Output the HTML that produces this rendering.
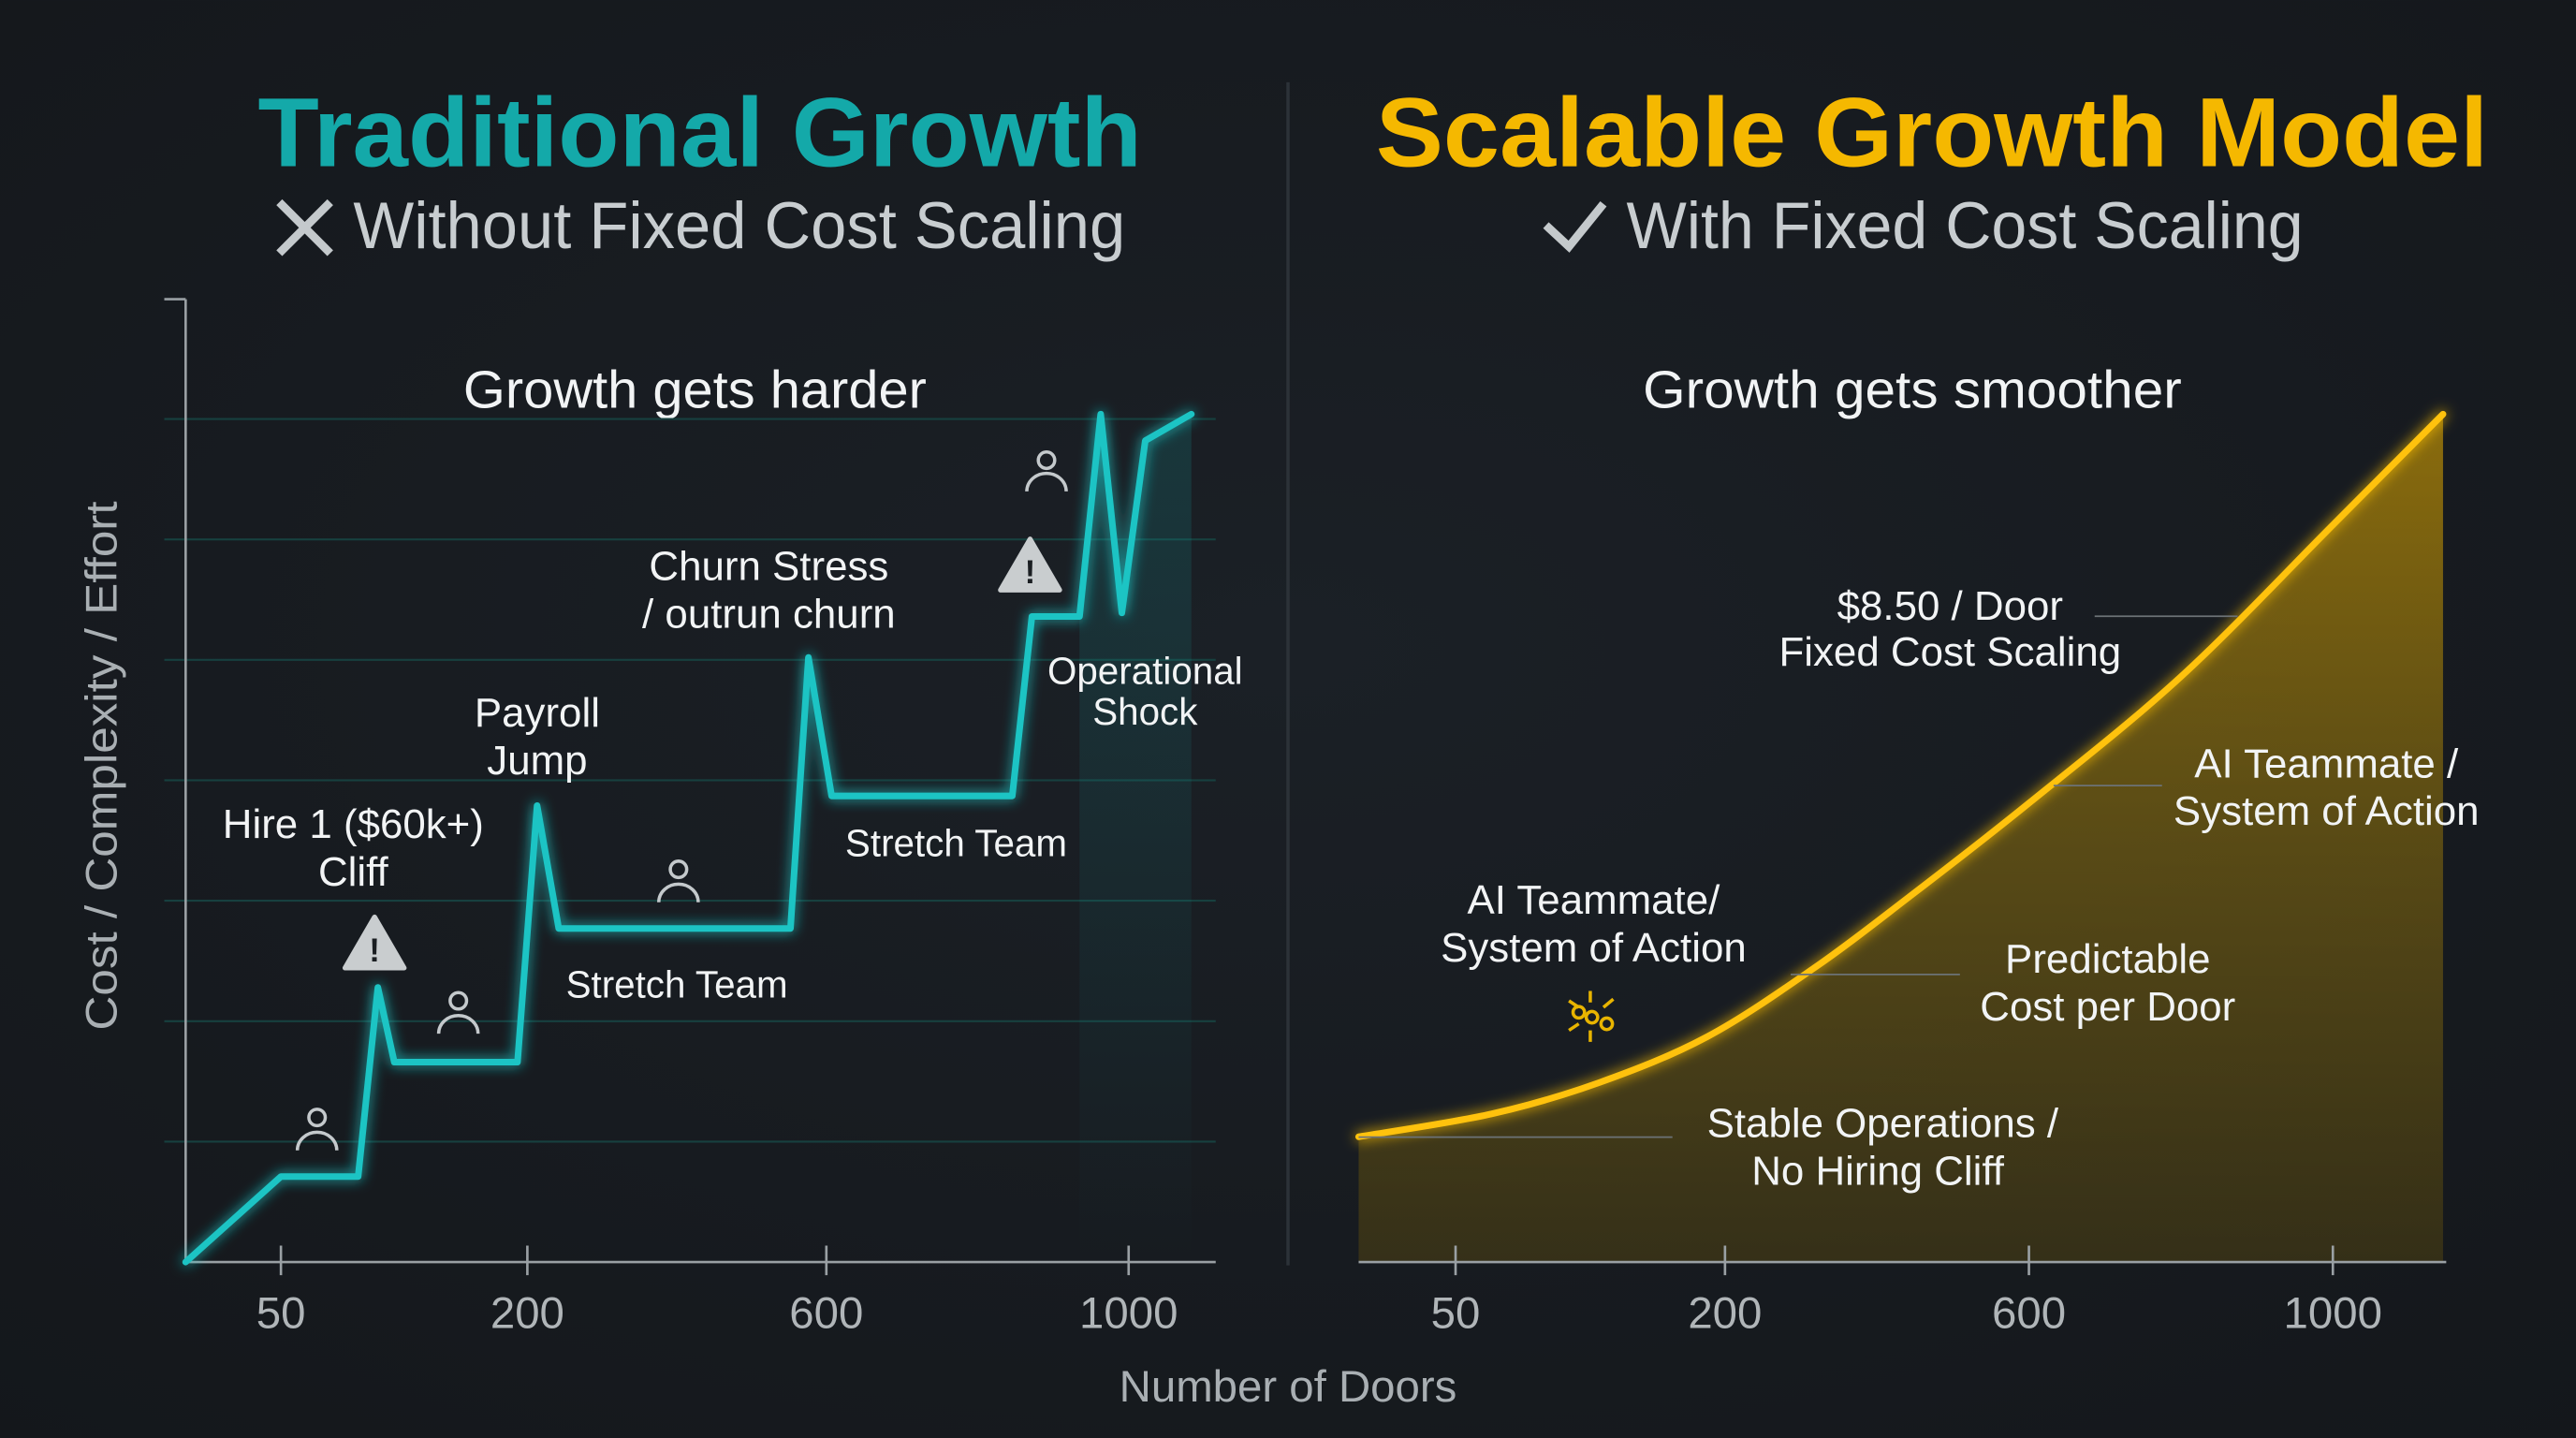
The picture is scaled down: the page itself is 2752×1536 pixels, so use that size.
<!DOCTYPE html>
<html><head><meta charset="utf-8"><style>
html,body{margin:0;padding:0;background:#171b20;}
svg{display:block;}
text{font-family:"Liberation Sans",sans-serif;}
</style></head><body>
<svg id="chart" width="2752" height="1536" viewBox="0 0 1568 875" xmlns="http://www.w3.org/2000/svg">
<defs>
<radialGradient id="bg" cx="50%" cy="45%" r="75%"><stop offset="0" stop-color="#1b2026"/><stop offset="1" stop-color="#14171b"/></radialGradient>
<linearGradient id="yfill" x1="0" y1="0" x2="0" y2="1"><stop offset="0" stop-color="#d9a300" stop-opacity="0.6"/><stop offset="0.5" stop-color="#9b7a0a" stop-opacity="0.5"/><stop offset="1" stop-color="#5a4a10" stop-opacity="0.45"/></linearGradient>
<linearGradient id="tfill" x1="0" y1="0" x2="0" y2="1"><stop offset="0" stop-color="#14a8a8" stop-opacity="0.18"/><stop offset="1" stop-color="#14a8a8" stop-opacity="0"/></linearGradient>
<filter id="glow" x="-20%" y="-20%" width="140%" height="140%"><feGaussianBlur stdDeviation="4" result="b"/><feMerge><feMergeNode in="b"/><feMergeNode in="SourceGraphic"/></feMerge></filter>
</defs>
<rect width="1568" height="875" fill="url(#bg)"/>
<line x1="784" y1="50" x2="784" y2="770" stroke="#2c3238" stroke-width="2"/>

<text x="426" y="101" text-anchor="middle" font-size="60" font-weight="bold" fill="#14a9a9" textLength="538" lengthAdjust="spacingAndGlyphs">Traditional Growth</text>
<g stroke="#c4c9cc" stroke-width="5"><line x1="170" y1="123" x2="201" y2="154"/><line x1="201" y1="123" x2="170" y2="154"/></g>
<text x="215" y="151" font-size="40" fill="#c8cdd0" textLength="470" lengthAdjust="spacingAndGlyphs">Without Fixed Cost Scaling</text>
<text x="1176" y="101" text-anchor="middle" font-size="60" font-weight="bold" fill="#f5b800" textLength="677" lengthAdjust="spacingAndGlyphs">Scalable Growth Model</text>
<path d="M941 137 L955 150 L976 124" fill="none" stroke="#c4c9cc" stroke-width="5"/>
<text x="990" y="151" font-size="40" fill="#c8cdd0" textLength="412" lengthAdjust="spacingAndGlyphs">With Fixed Cost Scaling</text>

<text x="423" y="248" text-anchor="middle" font-size="32" fill="#f2f4f5" textLength="282" lengthAdjust="spacingAndGlyphs">Growth gets harder</text>
<text x="1164" y="248" text-anchor="middle" font-size="32" fill="#f2f4f5" textLength="328" lengthAdjust="spacingAndGlyphs">Growth gets smoother</text>
<text transform="translate(71,466) rotate(-90)" text-anchor="middle" font-size="27" fill="#a9afb3" textLength="322" lengthAdjust="spacingAndGlyphs">Cost / Complexity / Effort</text>
<text x="784" y="853" text-anchor="middle" font-size="27" fill="#a9afb3">Number of Doors</text>

<g id="left"></g>
<g id="right"></g>

<g font-size="25" fill="#f2f4f5" text-anchor="middle">
<text x="215" y="510">Hire 1 ($60k+)</text>
<text x="215" y="539">Cliff</text>
<text x="327" y="442">Payroll</text>
<text x="327" y="471">Jump</text>
<text x="468" y="353">Churn Stress</text>
<text x="468" y="382">/ outrun churn</text>
<text x="697" y="416" font-size="23">Operational</text>
<text x="697" y="441" font-size="23">Shock</text>
<text x="412" y="607" font-size="23">Stretch Team</text>
<text x="582" y="521" font-size="23">Stretch Team</text>
</g>
<g>
<path d="M228 558 L246 589 L210 589 Z" fill="#c9cdcf" stroke="#c9cdcf" stroke-width="3" stroke-linejoin="round"/>
<text x="228" y="585" text-anchor="middle" font-size="20" font-weight="bold" fill="#1a1e22">!</text>
<path d="M627 328 L645 359 L609 359 Z" fill="#c9cdcf" stroke="#c9cdcf" stroke-width="3" stroke-linejoin="round"/>
<text x="627" y="355" text-anchor="middle" font-size="20" font-weight="bold" fill="#1a1e22">!</text>
</g>
<g fill="none" stroke="#c4c9cc" stroke-width="2">
<g><circle cx="193" cy="680" r="5"/><path d="M181 700 a12 11 0 0 1 24 0"/></g>
<g><circle cx="279" cy="609" r="5"/><path d="M267 629 a12 11 0 0 1 24 0"/></g>
<g><circle cx="413" cy="529" r="5"/><path d="M401 549 a12 11 0 0 1 24 0"/></g>
<g><circle cx="637" cy="280" r="5"/><path d="M625 299 a12 11 0 0 1 24 0"/></g>
</g>

<g font-size="25" fill="#f2f4f5" text-anchor="middle">
<text x="1187" y="377">$8.50 / Door</text>
<text x="1187" y="405">Fixed Cost Scaling</text>
<text x="1416" y="473">AI Teammate /</text>
<text x="1416" y="502">System of Action</text>
<text x="970" y="556">AI Teammate/</text>
<text x="970" y="585">System of Action</text>
<text x="1283" y="592">Predictable</text>
<text x="1283" y="621">Cost per Door</text>
<text x="1146" y="692">Stable Operations /</text>
<text x="1143" y="721">No Hiring Cliff</text>
</g>
<g stroke="#6c7276" stroke-width="1">
<line x1="1275" y1="375" x2="1362" y2="375"/><line x1="1250" y1="478" x2="1316" y2="478"/>
<line x1="1090" y1="593" x2="1193" y2="593"/><line x1="827" y1="692" x2="1018" y2="692"/>
</g>
<g stroke="#e8b400" stroke-width="2" fill="none">
<line x1="968" y1="603" x2="968" y2="610"/><line x1="968" y1="627" x2="968" y2="634"/>
<line x1="955" y1="609" x2="961" y2="613"/><line x1="976" y1="613" x2="982" y2="608"/>
<line x1="955" y1="627" x2="961" y2="623"/>
<circle cx="961" cy="616" r="3.5"/><circle cx="969" cy="619" r="3.5"/><circle cx="978" cy="623" r="3.5"/>
</g>
</svg>
<script>
// Shared data
const tickDoors = [50, 200, 600, 1000];
const tickLabels = ["50", "200", "600", "1000"];
const gridLevels = [1, 2, 3, 4, 5, 6, 7];
// Traditional growth (step-cliff) series
const tradDoors = [0, 50, 97, 109, 119, 194, 213, 242, 552, 576, 607, 846, 872, 935, 963, 991, 1022, 1083];
const tradValues = [0, 0.71, 0.71, 2.28, 1.66, 1.66, 3.79, 2.77, 2.77, 5.02, 3.87, 3.87, 5.36, 5.36, 7.04, 5.39, 6.82, 7.04];
// Scalable growth (smooth) series
const smoothDoors = [0, 70, 130, 190, 317, 442, 600, 800, 1000, 1145];
const smoothValues = [1.04, 1.23, 1.49, 1.87, 2.44, 3.03, 3.81, 4.86, 6.12, 7.04];

const NS = "http://www.w3.org/2000/svg";
function mk(tag, attrs, parent){const e=document.createElementNS(NS,tag);for(const k in attrs)e.setAttribute(k,attrs[k]);parent.appendChild(e);return e;}
function pw(domain, range){return d=>{for(let i=0;i<domain.length-1;i++){if(d<=domain[i+1]||i===domain.length-2){const t=(d-domain[i])/(domain[i+1]-domain[i]);return range[i]+t*(range[i+1]-range[i]);}}};}
const yS = v => 768 - v*73.3;
const xL = pw([0,50,200,600,1000],[113,171,321,503,687]);
const xR = pw([0,50,200,600,1000],[827,886,1050,1235,1420]);

// Left plot
const L = document.getElementById('left');
gridLevels.forEach(g=>{
  const gl = mk('line',{x1:100,x2:740,y1:yS(g),y2:yS(g),stroke:'#17403f','stroke-width':1.2},L);
  
  
});
const ya = mk('line',{x1:113,x2:113,y1:182,y2:768,stroke:'#9aa0a4','stroke-width':1.5},L);


mk('line',{x1:100,x2:113,y1:182,y2:182,stroke:'#9aa0a4','stroke-width':1.5},L);
const xa = mk('line',{x1:113,x2:740,y1:768,y2:768,stroke:'#9aa0a4','stroke-width':1.5},L);


let tp = tradDoors.map((d,i)=>xL(d)+','+yS(tradValues[i]));
const n = tradDoors.length;
const area = mk('path',{d:'M'+xL(tradDoors[13])+','+yS(tradValues[13])+' L'+tp.slice(13).join(' L')+' L'+xL(tradDoors[n-1])+',768 L'+xL(tradDoors[13])+',768 Z',fill:'url(#tfill)'},L);


const tl = mk('polyline',{points:tp.join(' '),fill:'none',stroke:'#1ec4c4','stroke-width':4,'stroke-linejoin':'round','stroke-linecap':'round',filter:'url(#glow)'},L);


tickDoors.forEach((d,i)=>{
  mk('line',{x1:xL(d),x2:xL(d),y1:758,y2:776,stroke:'#9aa0a4','stroke-width':1.5},L);
  const t = mk('text',{x:xL(d),y:808,'text-anchor':'middle','font-size':27,fill:'#b0b5b8'},L);
  t.textContent = tickLabels[i];
  
  
});

// Right plot
const R = document.getElementById('right');
const sp = smoothDoors.map((d,i)=>[xR(d),yS(smoothValues[i])]);
function curve(p){let s='M'+p[0][0]+','+p[0][1];for(let i=0;i<p.length-1;i++){const p0=p[i-1]||p[i],p1=p[i],p2=p[i+1],p3=p[i+2]||p2;
  s+=' C'+(p1[0]+(p2[0]-p0[0])/6)+','+(p1[1]+(p2[1]-p0[1])/6)+' '+(p2[0]-(p3[0]-p1[0])/6)+','+(p2[1]-(p3[1]-p1[1])/6)+' '+p2[0]+','+p2[1];}return s;}
const cd = curve(sp);
const ra = mk('path',{d:cd+' L'+sp[sp.length-1][0]+',768 L'+sp[0][0]+',768 Z',fill:'url(#yfill)'},R);


const rl = mk('path',{d:cd,fill:'none',stroke:'#ffc20e','stroke-width':4,'stroke-linecap':'round',filter:'url(#glow)'},R);


const rx = mk('line',{x1:827,x2:1489,y1:768,y2:768,stroke:'#9aa0a4','stroke-width':1.5},R);


tickDoors.forEach((d,i)=>{
  mk('line',{x1:xR(d),x2:xR(d),y1:758,y2:776,stroke:'#9aa0a4','stroke-width':1.5},R);
  const t = mk('text',{x:xR(d),y:808,'text-anchor':'middle','font-size':27,fill:'#b0b5b8'},R);
  t.textContent = tickLabels[i];
  
  
});
</script>
</body></html>
